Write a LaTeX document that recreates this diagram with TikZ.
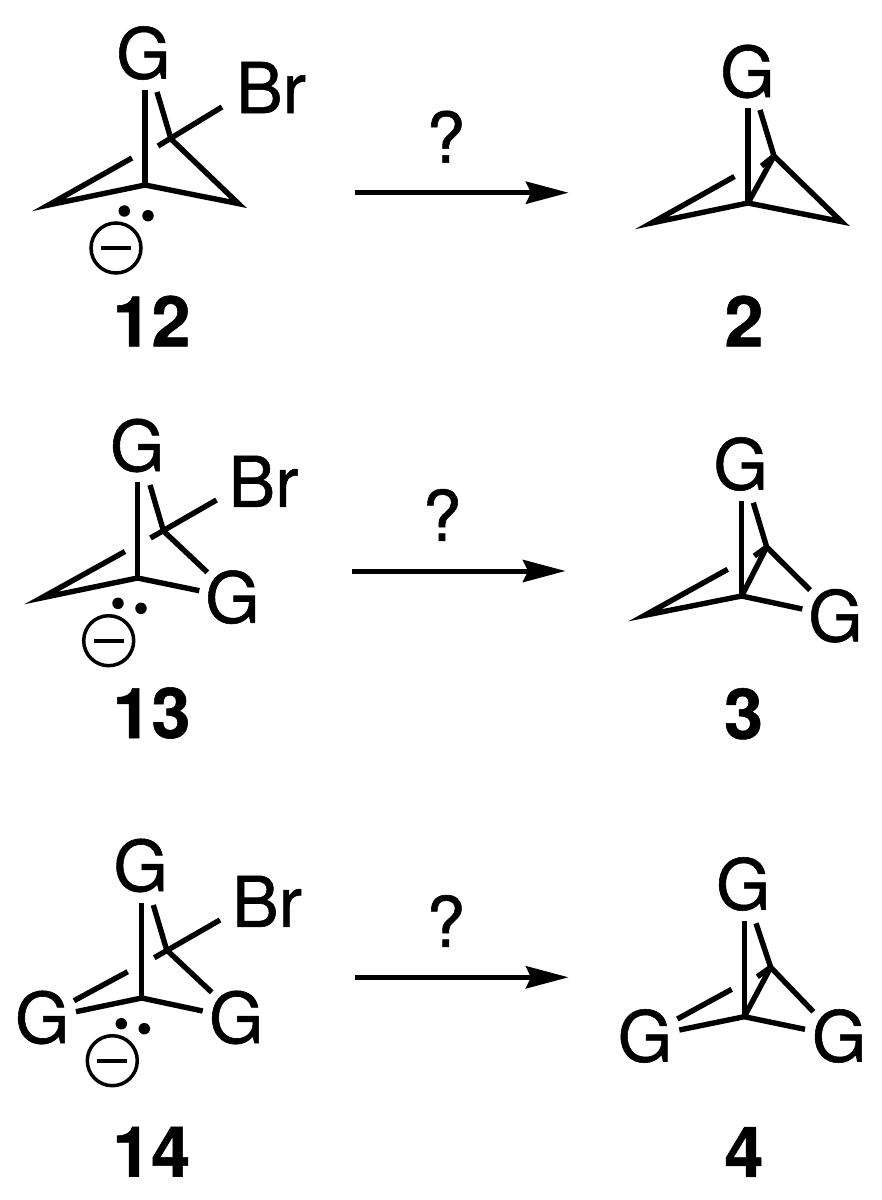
\documentclass[tikz,border=0pt]{standalone}
\usepackage{fontspec}
\setmainfont{TeX Gyre Heros}
\newfontfamily\atomfont{TeX Gyre Heros}[FakeBold=0.8]
\newfontfamily\cpdfont{TeX Gyre Heros Bold}[FakeBold=0.8]
\usetikzlibrary{arrows.meta}
\tikzset{
  atom/.style={inner sep=0pt,outer sep=0pt,font=\fontsize{70}{70}\selectfont\atomfont},
  cpdlabel/.style={inner sep=0pt,outer sep=0pt,font=\fontsize{70}{70}\selectfont\cpdfont},
  bond/.style={line width=5.4pt,line cap=butt,line join=miter,miter limit=20},
  charge/.style={circle,draw,line width=3.5pt,minimum size=50pt,inner sep=0pt,outer sep=0pt},
  minusbar/.style={line width=4pt},
  lonepair/.style={circle,fill=black,minimum size=11.5pt,inner sep=0pt,outer sep=0pt},
  reaction/.style={line width=5pt,-{Stealth[length=43pt,width=23pt,inset=5.7pt,line width=0pt]}}
}
\begin{document}
\begin{tikzpicture}[x=1pt,y=-1pt]
\useasboundingbox (0,0) rectangle (882,1200);
% ---- 12
\node[atom] (g12) at (143.5,53) {G};
\node[atom] (br12) at (271,87.5) {Br};
\node[cpdlabel] (l12) at (151.5,321) {12};
\coordinate (a1) at (145,90); \coordinate (a2) at (145,185);
\coordinate (a3) at (132,158); \coordinate (a4) at (48.5,205);
\coordinate (a5) at (238.4,203.6); \coordinate (a6) at (171,139);
\coordinate (a7) at (157,92); \coordinate (a8) at (222,107); \coordinate (a9) at (158,146);
\draw[bond] (a1) -- (a2);
\draw[bond] (a3) -- (a4) -- (a2) -- (a5) -- (a6) -- (a7);
\draw[bond] (a8) -- (a9);
\node[charge] (c12) at (116,248) {};
\draw[minusbar] ([xshift=-15pt]c12.center) -- ([xshift=15pt]c12.center);
\node[lonepair] (d12a) at (124.3,211) {};
\node[lonepair] (d12b) at (148,215.7) {};
% ---- 2
\node[atom] (g2) at (747.5,71.5) {G};
\node[cpdlabel] (l2) at (744,321) {2};
\coordinate (b1) at (748,108); \coordinate (b2) at (748,203);
\coordinate (b3) at (734.5,176.5); \coordinate (b4) at (651.5,223);
\coordinate (b5) at (841.4,221.6); \coordinate (b6) at (774,156);
\coordinate (b7) at (760,110); \coordinate (b8) at (761.5,166);
\draw[bond] (b1) -- (b2);
\draw[bond] (b3) -- (b4) -- (b2) -- (b5) -- (b6) -- (b7);
\draw[bond] (b2) -- (b6);
\draw[bond] (b8) -- (b6);
% ---- 13
\node[atom] (g13) at (137.3,445.5) {G};
\node[atom] (br13) at (263.5,481.3) {Br};
\node[atom] (gr13) at (232.5,597.2) {G};
\node[cpdlabel] (l13) at (151.5,713) {13};
\coordinate (e1) at (137.5,482); \coordinate (e2) at (137.5,578);
\coordinate (e3) at (125,551.5); \coordinate (e4) at (41.2,598);
\coordinate (e5) at (199.3,590.7); \coordinate (e6) at (163.5,531);
\coordinate (e7) at (150,485); \coordinate (e8) at (216.5,500);
\coordinate (e9) at (150.5,538); \coordinate (e10) at (207.3,572.3);
\draw[bond] (e1) -- (e2);
\draw[bond] (e3) -- (e4) -- (e2) -- (e5);
\draw[bond] (e10) -- (e6) -- (e7);
\draw[bond] (e8) -- (e9);
\node[charge] (c13) at (108.7,640.7) {};
\draw[minusbar] ([xshift=-15pt]c13.center) -- ([xshift=15pt]c13.center);
\node[lonepair] (d13a) at (118,603.3) {};
\node[lonepair] (d13b) at (141,608.3) {};
% ---- 3
\node[atom] (g3) at (740.7,464) {G};
\node[atom] (gr3) at (835.5,615.8) {G};
\node[cpdlabel] (l3) at (743.5,713.8) {3};
\coordinate (f1) at (741.7,501); \coordinate (f2) at (741.7,596);
\coordinate (f3) at (727.7,569.3); \coordinate (f4) at (644.8,615.3);
\coordinate (f5) at (802.3,609); \coordinate (f6) at (766.7,547);
\coordinate (f7) at (753.3,502.7); \coordinate (f8) at (754.3,556);
\coordinate (f10) at (810,590);
\draw[bond] (f1) -- (f2);
\draw[bond] (f3) -- (f4) -- (f2) -- (f5);
\draw[bond] (f10) -- (f6) -- (f7);
\draw[bond] (f2) -- (f6);
\draw[bond] (f8) -- (f6);
% ---- 14
\node[atom] (g14) at (140.7,865.5) {G};
\node[atom] (br14) at (267,901.3) {Br};
\node[atom] (gl14) at (42.3,1017.5) {G};
\node[atom] (gr14) at (236.3,1017.5) {G};
\node[cpdlabel] (l14) at (151.3,1151.7) {14};
\coordinate (h1) at (141.7,903.3); \coordinate (h2) at (141.7,998);
\coordinate (h3) at (127.7,971.7); \coordinate (h4) at (74,1000.7);
\coordinate (h5) at (202.7,1011); \coordinate (h6) at (166.7,950);
\coordinate (h7) at (153.3,905); \coordinate (h8) at (220,920);
\coordinate (h9) at (154.3,957.7); \coordinate (h10) at (211.7,992.3);
\coordinate (h11) at (76,1011.7);
\draw[bond] (h1) -- (h2);
\draw[bond] (h3) -- (h4);
\draw[bond] (h11) -- (h2) -- (h5);
\draw[bond] (h10) -- (h6) -- (h7);
\draw[bond] (h8) -- (h9);
\node[charge] (c14) at (112.3,1060.7) {};
\draw[minusbar] ([xshift=-15pt]c14.center) -- ([xshift=15pt]c14.center);
\node[lonepair] (d14a) at (121.3,1023.7) {};
\node[lonepair] (d14b) at (144.3,1028.7) {};
% ---- 4
\node[atom] (g4) at (743.3,884) {G};
\node[atom] (gl4) at (645,1036) {G};
\node[atom] (gr4) at (839.2,1036) {G};
\node[cpdlabel] (l4) at (744,1152) {4};
\coordinate (k1) at (744.3,921); \coordinate (k2) at (744.3,1016.7);
\coordinate (k3) at (731.7,989.3); \coordinate (k4) at (677.3,1019);
\coordinate (k5) at (805,1029.3); \coordinate (k6) at (770.7,967.3);
\coordinate (k7) at (756,923.3); \coordinate (k8) at (757.3,976.7);
\coordinate (k10) at (813.3,1011.7); \coordinate (k11) at (679.3,1030);
\draw[bond] (k1) -- (k2);
\draw[bond] (k3) -- (k4);
\draw[bond] (k11) -- (k2) -- (k5);
\draw[bond] (k10) -- (k6) -- (k7);
\draw[bond] (k2) -- (k6);
\draw[bond] (k8) -- (k6);
% ---- arrows
\coordinate (r1s) at (355,192.7); \coordinate (r1e) at (568.3,192.7);
\coordinate (r2s) at (352,571); \coordinate (r2e) at (565.3,571);
\coordinate (r3s) at (355,977.3); \coordinate (r3e) at (568.3,977.3);
\draw[reaction] (r1s) -- (r1e);
\draw[reaction] (r2s) -- (r2e);
\draw[reaction] (r3s) -- (r3e);
\node[atom] (q1) at (445.8,136.7) {?};
\node[atom] (q2) at (442,515) {?};
\node[atom] (q3) at (445.8,921) {?};
\end{tikzpicture}
\end{document}
